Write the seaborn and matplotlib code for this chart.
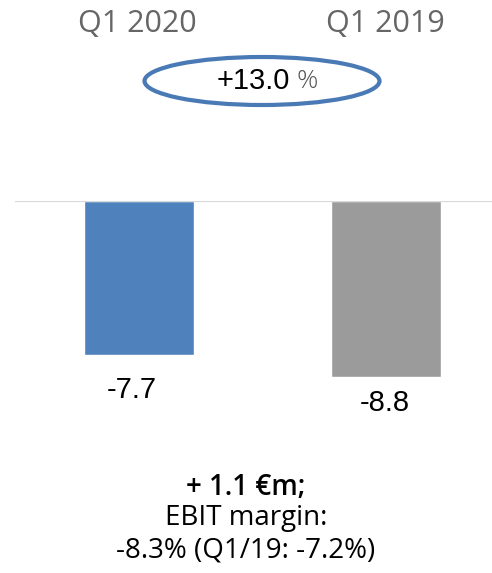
import matplotlib
matplotlib.use("Agg")
import matplotlib.pyplot as plt
from matplotlib.patches import Ellipse
import seaborn as sns
import pandas as pd

# EBIT in €m per quarter
periods = ["Q1 2020", "Q1 2019"]
ebit = [-7.7, -8.8]
bar_colors = ["#4f81bd", "#9b9b9b"]
change_pct = "+13.0"
footer_lines = ["+ 1.1 €m;", "EBIT margin:", "-8.3% (Q1/19: -7.2%)"]

sns.set_theme(style="white")
plt.rcParams["font.family"] = ["Liberation Sans", "DejaVu Sans"]
SANS = ["Open Sans", "DejaVu Sans"]
ARIAL = ["Liberation Sans", "DejaVu Sans"]

W, H = 492, 573
fig = plt.figure(figsize=(W / 100, H / 100), dpi=100)

# axes spanning the bar area; zero line sits at the top edge
ax_left, ax_right = 15, 492
ax_top, ax_bottom = 201, 421
ax = fig.add_axes([ax_left / W, 1 - ax_bottom / H,
                   (ax_right - ax_left) / W, (ax_bottom - ax_top) / H])

df = pd.DataFrame({"period": periods, "ebit": ebit})
sns.barplot(data=df, x="period", y="ebit", hue="period", palette=bar_colors,
            width=0.445, legend=False, ax=ax, saturation=1)

ax.set_xlim(-0.502, 1.429)
ax.set_ylim(-11, 0)
ax.axhline(0, color="#d9d9d9", lw=1.6, zorder=5)
for s in ax.spines.values():
    s.set_visible(False)
ax.set_xticks([])
ax.set_yticks([])
ax.set_xlabel("")
ax.set_ylabel("")

# value labels below each bar
label_offsets = [(-7, -21), (-1, -12)]
for i, (v, off) in enumerate(zip(ebit, label_offsets)):
    ax.annotate(f"{v:.1f}", xy=(i, v), xytext=off, textcoords="offset pixels",
                ha="center", va="top", fontsize=21, color="black",
                family=ARIAL)

def fy(py):
    return 1 - py / H

def fx(px):
    return px / W

# period headers above the bars
header_x = [137, 385]
for name, x in zip(periods, header_x):
    fig.text(fx(x), fy(24), name, ha="center", va="center", fontsize=22,
             color="#666666", family=SANS)

# growth bubble
ell = Ellipse((fx(262), fy(81)), width=235 / W, height=48 / H,
              transform=fig.transFigure, fill=False, edgecolor="#4a7ab5", lw=3)
fig.add_artist(ell)
fig.text(fx(290), fy(81), change_pct, ha="right", va="center", fontsize=21,
         color="black", family=ARIAL)
fig.text(fx(296), fy(81), "%", ha="left", va="center", fontsize=19,
         color="#555555", family=SANS, fontweight="light")

# footer summary
footer_y = [487, 518, 550]
for i, (txt, y) in enumerate(zip(footer_lines, footer_y)):
    fig.text(fx(246), fy(y), txt, ha="center", va="center", fontsize=20,
             color="black", family=SANS,
             fontweight="semibold" if i == 0 else "normal")

fig.savefig("out.png", dpi=100)
